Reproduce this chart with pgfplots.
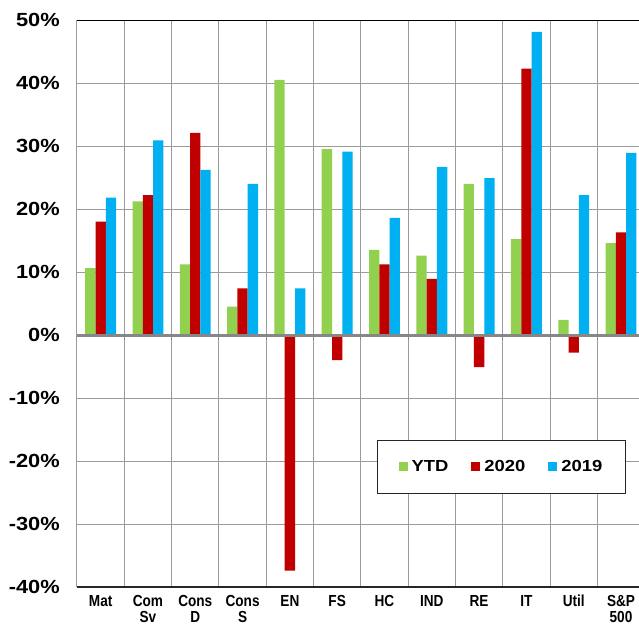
\documentclass[border=0pt]{standalone}
\usepackage{fontspec}
\setmainfont{Liberation Sans}
\newfontfamily\ylabfont[FakeStretch=1.15]{Liberation Sans}
\newfontfamily\xlabfont[FakeStretch=0.85]{Liberation Sans}
\newfontfamily\legfont[FakeStretch=1.15]{Liberation Sans}
\usepackage{pgfplots}
\usepackage{pgfplotstable}
\pgfplotsset{compat=1.18}
\definecolor{cg}{HTML}{92D050}
\definecolor{cr}{HTML}{C00000}
\definecolor{cb}{HTML}{00B0F0}
\definecolor{gridc}{RGB}{155,155,155}
\definecolor{zeroc}{RGB}{135,135,135}
\pgfplotstableread{
x ytd y20 y19
0 10.6 18.0 21.8
1 21.2 22.2 30.9
2 11.2 32.1 26.2
3 4.5 7.4 24.0
4 40.5 -37.4 7.4
5 29.5 -4.0 29.1
6 13.5 11.2 18.6
7 12.6 8.9 26.7
8 24.0 -5.1 24.9
9 15.2 42.3 48.1
10 2.4 -2.8 22.2
11 14.6 16.3 28.9
}\data
\begin{document}
\begin{tikzpicture}
\path[use as bounding box] (-77bp,-38bp) rectangle (562bp,587bp);
\begin{axis}[
  at={(0,0)}, anchor=south west,
  width=562bp, height=567bp, scale only axis,
  xmin=-0.5, xmax=11.38, ymin=-40, ymax=50,
  ybar=0pt, bar width=10.3bp,
  ytick={-40,-30,...,50},
  xtick={0,...,11},
  xticklabels={Mat,{Com\\Sv},{Cons\\D},{Cons\\S},EN,FS,HC,IND,RE,IT,Util,{S\&P\\500}},
  minor xtick={-0.5,0.5,...,11.5},
  xminorgrids, ymajorgrids,
  major tick length=0pt, minor tick length=0pt,
  grid style={draw=gridc, line width=1bp},
  minor grid style={draw=gridc, line width=1bp},
  axis line style={draw=none},
  /pgf/number format/assume math mode=true,
  yticklabel={\pgfmathprintnumber{\tick}\%},
  yticklabel style={font=\fontsize{19bp}{20bp}\selectfont\ylabfont\bfseries, inner sep=0pt, xshift=-17bp},
  xticklabel style={font=\fontsize{16bp}{16bp}\selectfont\xlabfont\bfseries, align=center, inner sep=0pt, yshift=-8bp},
  legend columns=3,
  legend style={at={(0.534,0.259)}, anchor=north west, draw=black!85, line width=1bp,
    font=\fontsize{16bp}{17bp}\selectfont\legfont\bfseries,
    inner xsep=21bp, inner ysep=18bp,
    nodes={inner sep=2bp},
    /tikz/every odd column/.append style={column sep=2bp},
    /tikz/every even column/.append style={column sep=21bp}},
  legend cell align=left,
]
\addplot[fill=cg, draw=none, legend image code/.code={\fill[cg] (0bp,-4.5bp) rectangle (9bp,4.5bp);}] table[x=x,y=ytd]{\data};
\addlegendentry{YTD}
\addplot[fill=cr, draw=none, legend image code/.code={\fill[cr] (0bp,-4.5bp) rectangle (9bp,4.5bp);}] table[x=x,y=y20]{\data};
\addlegendentry{2020}
\addplot[fill=cb, draw=none, legend image code/.code={\fill[cb] (0bp,-4.5bp) rectangle (9bp,4.5bp);}] table[x=x,y=y19]{\data};
\addlegendentry{2019}
\draw[black, line width=1.2bp] (rel axis cs:0,1) -- (rel axis cs:1,1);
\draw[black!85, line width=1.2bp] (rel axis cs:0,0) -- (rel axis cs:1,0);
\draw[zeroc, line width=3bp] (axis cs:-0.5,0) -- (axis cs:11.38,0);
\pgfplotsinvokeforeach{-0.5,0.5,1.5,2.5,3.5,4.5,5.5,6.5,7.5,8.5,9.5,10.5}{
  \draw[zeroc, line width=1bp] (axis cs:#1,0) -- ++(0bp,-5bp);
}
\end{axis}
\end{tikzpicture}
\end{document}
